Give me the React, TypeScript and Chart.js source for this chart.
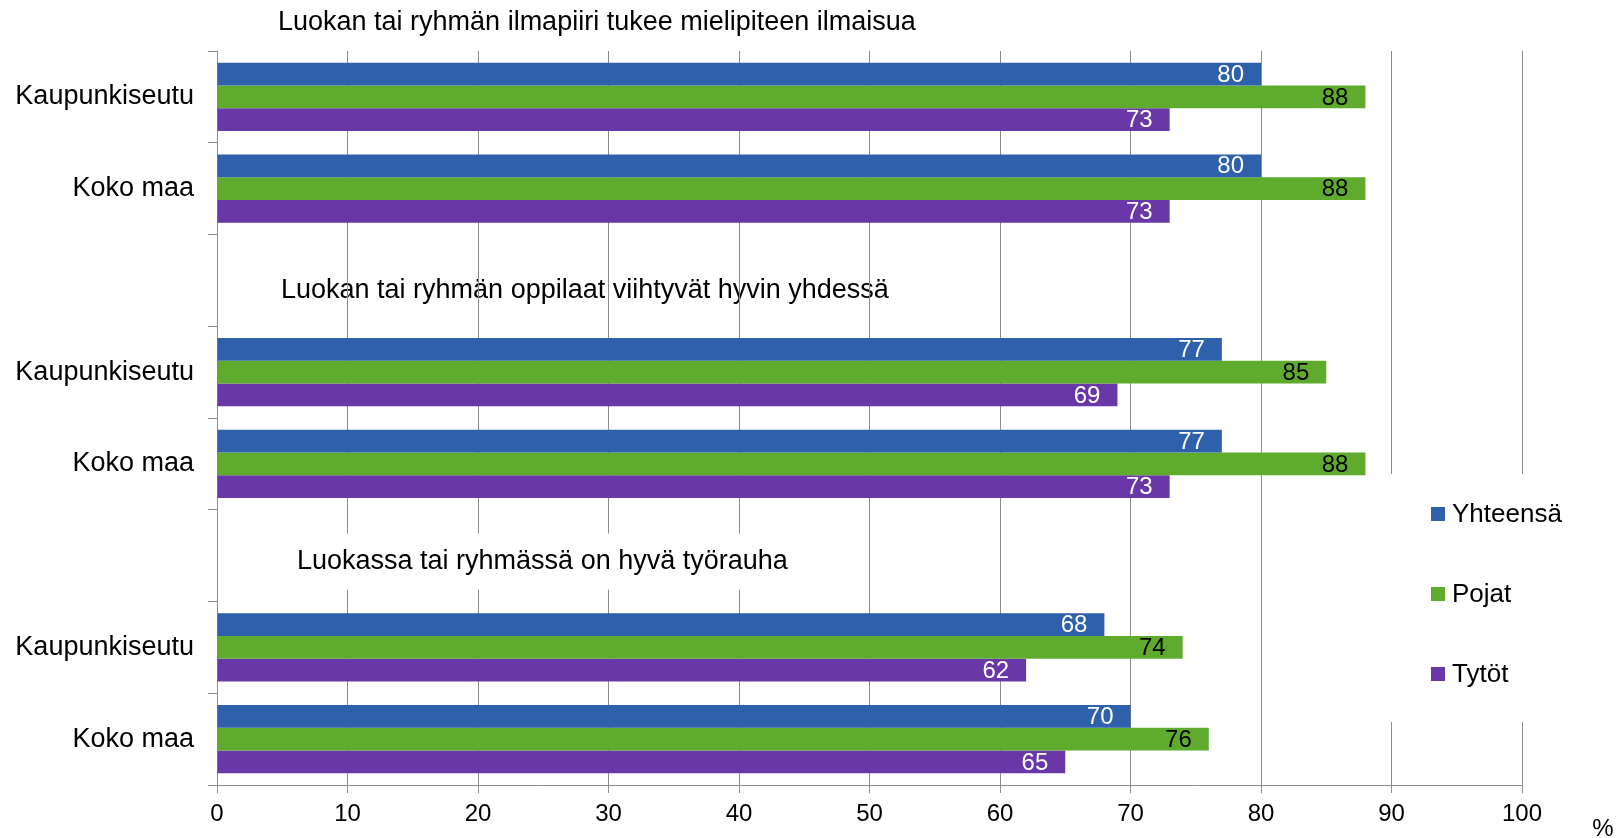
import React, { useEffect, useRef } from 'react';
import { Chart, registerables } from 'chart.js';

Chart.register(...registerables);

const categories = ['Kaupunkiseutu', 'Koko maa', '', 'Kaupunkiseutu', 'Koko maa', '', 'Kaupunkiseutu', 'Koko maa'];
const seriesNames = ['Yhteensä', 'Pojat', 'Tytöt'];
const yhteensa = [80, 80, null, 77, 77, null, 68, 70];
const pojat = [88, 88, null, 85, 88, null, 74, 76];
const tytot = [73, 73, null, 69, 73, null, 62, 65];
const groupTitles = [
  'Luokan tai ryhmän ilmapiiri tukee mielipiteen ilmaisua',
  'Luokan tai ryhmän oppilaat viihtyvät hyvin yhdessä',
  'Luokassa tai ryhmässä on hyvä työrauha',
];
const xMin = 0;
const xMax = 100;
const xStep = 10;
const unitLabel = '%';

const COLORS = ['#2F60AB', '#5EAB2E', '#6A37A8'];
const LABEL_COLORS = ['#ffffff', '#000000', '#ffffff'];
const FONT = '"Liberation Sans", Arial, sans-serif';
const GRID = '#8C8C8C';

const overlayPlugin = {
  id: 'overlay',
  beforeDraw(chart: any) {
    const { ctx, chartArea: a } = chart;
    const y = chart.scales.y;
    ctx.save();
    ctx.fillStyle = '#ffffff';
    ctx.fillRect(0, 0, chart.width, chart.height);
    ctx.font = `27px ${FONT}`;
    ctx.fillStyle = '#000';
    ctx.textBaseline = 'middle';
    ctx.textAlign = 'left';
    ctx.fillText(groupTitles[0], 278, a.top - 28);
    ctx.fillText(groupTitles[1], 281, y.getPixelForValue(2) + 10);
    ctx.restore();
  },
  beforeDatasetsDraw(chart: any) {
    const { ctx } = chart;
    const y = chart.scales.y;
    ctx.save();
    const cy = y.getPixelForValue(5) + 6;
    ctx.fillStyle = '#ffffff';
    ctx.fillRect(283, cy - 28, 555, 56);
    ctx.fillRect(1330, 474, 294, 248);
    ctx.font = `27px ${FONT}`;
    ctx.fillStyle = '#000';
    ctx.textBaseline = 'middle';
    ctx.textAlign = 'left';
    ctx.fillText(groupTitles[2], 297, cy);
    ctx.restore();
  },
  afterDatasetsDraw(chart: any) {
    const { ctx } = chart;
    ctx.save();
    ctx.font = `24px ${FONT}`;
    ctx.textBaseline = 'middle';
    ctx.textAlign = 'right';
    chart.data.datasets.forEach((ds: any, di: number) => {
      const meta = chart.getDatasetMeta(di);
      meta.data.forEach((el: any, i: number) => {
        const v = ds.data[i];
        if (v === null || v === undefined) return;
        ctx.fillStyle = LABEL_COLORS[di];
        ctx.fillText(String(v), el.x - 17, el.y + 1);
      });
    });
    // legend
    const legendY = [514, 594, 674];
    ctx.font = `26px ${FONT}`;
    ctx.textAlign = 'left';
    chart.data.datasets.forEach((ds: any, di: number) => {
      ctx.fillStyle = ds.backgroundColor;
      ctx.fillRect(1431, legendY[di] - 7, 14, 14);
      ctx.fillStyle = '#000';
      ctx.fillText(ds.label, 1452, legendY[di] + 1);
    });
    // unit
    ctx.font = `24px ${FONT}`;
    ctx.textAlign = 'center';
    ctx.fillText(unitLabel, 1603, 829);
    ctx.restore();
  },
};

export default function App() {
  const ref = useRef<HTMLCanvasElement | null>(null);
  useEffect(() => {
    if (!ref.current) return;
    const chart = new Chart(ref.current, {
      type: 'bar',
      data: {
        labels: categories,
        datasets: [
          { label: seriesNames[0], data: yhteensa, backgroundColor: COLORS[0] },
          { label: seriesNames[1], data: pojat, backgroundColor: COLORS[1] },
          { label: seriesNames[2], data: tytot, backgroundColor: COLORS[2] },
        ],
      },
      options: {
        indexAxis: 'y',
        responsive: false,
        animation: false,
        devicePixelRatio: 1,
        layout: { padding: { top: 51, right: 102, left: 0, bottom: 0 } },
        datasets: { bar: { categoryPercentage: 0.745, barPercentage: 1.0, borderWidth: 0 } },
        plugins: {
          legend: { display: false },
          title: { display: false },
          tooltip: { enabled: false },
        },
        scales: {
          x: {
            type: 'linear',
            min: xMin,
            max: xMax,
            ticks: {
              stepSize: xStep,
              color: '#000',
              font: { family: FONT, size: 24 },
              padding: 7,
            },
            grid: {
              color: GRID,
              lineWidth: 1,
              drawOnChartArea: true,
              drawTicks: true,
              tickLength: 8,
              tickColor: GRID,
            },
            border: { display: true, color: GRID, width: 1 },
            afterFit(scale: any) {
              scale.height = 53;
            },
          },
          y: {
            type: 'category',
            offset: true,
            ticks: {
              color: '#000',
              font: { family: FONT, size: 27 },
              padding: 14,
            },
            grid: {
              offset: true,
              drawOnChartArea: false,
              drawTicks: true,
              tickLength: 9,
              color: GRID,
              tickColor: GRID,
            },
            border: { display: true, color: GRID, width: 1 },
            afterFit(scale: any) {
              scale.width = 217;
            },
          },
        },
      },
      plugins: [overlayPlugin],
    });
    return () => chart.destroy();
  }, []);
  return (
    <div style={{ position: 'fixed', left: 0, top: 0, width: 1624, height: 838, background: '#fff' }}>
      <canvas ref={ref} width={1624} height={838} style={{ display: 'block' }} />
    </div>
  );
}
